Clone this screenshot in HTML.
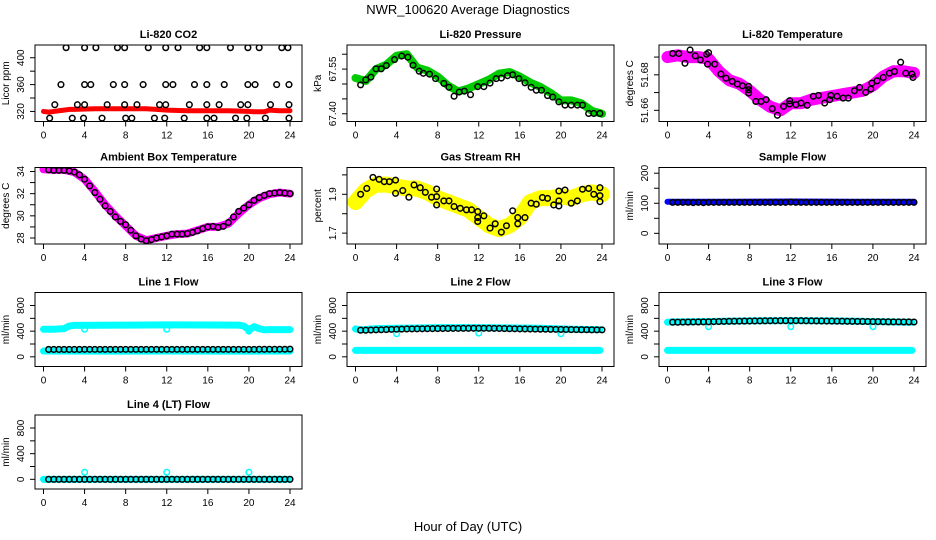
<!DOCTYPE html>
<html><head><meta charset="utf-8"><style>
html,body{margin:0;padding:0;background:#fff;}
svg{display:block;font-family:"Liberation Sans",Arial,sans-serif;}
</style></head><body>
<svg id="chart" width="936" height="540" viewBox="0 0 936 540">
<text x="468" y="14" text-anchor="middle" font-size="13">NWR_100620  Average Diagnostics</text>
<text x="468" y="531" text-anchor="middle" font-size="13">Hour of Day (UTC)</text>
</svg>
<script>
const halfHours=[0.5,1,1.5,2,2.5,3,3.5,4,4.5,5,5.5,6,6.5,7,7.5,8,8.5,9,9.5,10,10.5,11,11.5,12,12.5,13,13.5,14,14.5,15,15.5,16,16.5,17,17.5,18,18.5,19,19.5,20,20.5,21,21.5,22,22.5,23,23.5,24];
const hourly=[0,1,2,3,4,5,6,7,8,9,10,11,12,13,14,15,16,17,18,19,20,21,22,23,24];

// CO2
const co2BandHours=[0,0.5,1,1.5,2,2.5,3,5,8,10,11,12,14,16,18,20,20.5,21.5,22,23,24];
const co2BandVals=[320,319,320,321,322,323,323,324,324,324,323,322,321,321,321,320,319.5,319.5,322,321,321];
const co2PtHours=[2.2,4.0,5.1,7.2,7.9,10.2,11.9,13.1,15.2,15.9,18.2,19.9,21.0,23.2,23.8,1.7,4.0,4.6,6.8,7.9,9.7,11.9,12.6,14.7,15.9,17.6,19.9,20.6,22.7,23.9,1.1,3.3,4.0,6.2,7.9,9.1,11.3,11.9,14.2,15.9,17.1,19.2,19.9,22.1,23.9,0.6,2.8,3.9,5.7,8.0,8.6,10.8,11.8,13.7,15.9,16.6,18.7,19.8,21.6,23.9];
const co2PtVals=[415,415,415,415,415,415,415,415,415,415,415,415,415,415,415,360,360,360,360,360,360,360,360,360,360,360,360,360,360,360,330,330,330,330,330,330,330,330,330,330,330,330,330,330,330,310,310,310,310,310,310,310,310,310,310,310,310,310,310,310];

// Pressure
const presBandVals=[67.52,67.51,67.55,67.565,67.595,67.6,67.555,67.545,67.525,67.495,67.475,67.485,67.5,67.515,67.535,67.54,67.525,67.505,67.49,67.47,67.445,67.445,67.435,67.41,67.4];
const presPtHours=[0.5,1,1.5,2,2.5,3,3.8,4.5,5.1,5.6,6.2,6.6,7.2,7.8,8.6,9.1,9.6,10.1,10.6,11.2,11.9,12.5,13.1,13.7,14.2,14.8,15.3,15.9,16.5,17.1,17.6,18.1,18.7,19.2,19.8,20.4,21,21.6,22.1,22.7,23.2,23.8];
const presPtVals=[67.497,67.514,67.523,67.551,67.551,67.562,67.582,67.594,67.59,67.563,67.543,67.536,67.533,67.518,67.502,67.489,67.459,67.473,67.476,67.464,67.491,67.491,67.503,67.518,67.52,67.528,67.531,67.518,67.504,67.489,67.479,67.479,67.461,67.456,67.44,67.429,67.429,67.429,67.429,67.401,67.401,67.401];

// Li-820 temperature
const tempBandVals=[51.690,51.691,51.690,51.690,51.689,51.682,51.677,51.675,51.671,51.666,51.662,51.660,51.664,51.664,51.666,51.667,51.668,51.669,51.670,51.671,51.674,51.679,51.682,51.682,51.681];
const tempPtHours=[0.5,1.1,1.7,2.2,2.7,3.2,3.8,3.9,4.0,4.6,5.2,5.7,6.3,6.8,7.3,7.9,7.9,7.9,8.6,9.1,9.6,10.2,10.7,11.3,11.9,11.9,12.5,13,13.6,14.2,14.7,15.3,15.8,15.9,16.5,17.1,17.6,18.2,18.7,19.3,19.8,19.9,20.4,21,21.6,22.1,22.7,23.2,23.8,23.9];
const tempPtVals=[51.692,51.692,51.6865,51.694,51.6907,51.6884,51.6916,51.686,51.6925,51.686,51.6804,51.6781,51.6763,51.6748,51.6738,51.6735,51.6716,51.6697,51.665,51.665,51.666,51.6609,51.6572,51.6622,51.6654,51.6636,51.6632,51.6641,51.6628,51.6679,51.6684,51.6641,51.666,51.6684,51.6679,51.6669,51.6669,51.671,51.6729,51.6701,51.672,51.6753,51.6766,51.6785,51.6809,51.6819,51.6871,51.6809,51.6804,51.6785];

// Ambient box temperature
const ambBandVals=[34.2,34.15,34.15,33.95,33.3,32.2,31.0,30.0,29.1,28.2,27.8,28.0,28.2,28.35,28.4,28.7,29.0,29.0,29.3,30.2,31.0,31.6,31.95,32.1,32.0];
const ambPtVals=[34.15,34.1,34.1,34.1,34.05,33.95,33.7,33.3,32.7,32.1,31.5,30.9,30.4,29.9,29.5,29.2,28.7,28.2,27.9,27.75,27.85,28.0,28.1,28.2,28.35,28.35,28.35,28.4,28.5,28.65,28.85,29.0,29.05,28.95,29.05,29.4,29.9,30.4,30.7,31.0,31.4,31.65,31.85,32.0,32.05,32.1,32.05,32.0];

// Gas stream RH
const rhBandVals=[1.86,1.92,1.95,1.95,1.94,1.93,1.93,1.91,1.88,1.86,1.84,1.82,1.78,1.74,1.72,1.74,1.78,1.86,1.88,1.88,1.89,1.88,1.9,1.91,1.9];
const rhPtHours=[0.5,1.1,1.7,2.3,2.8,3.3,3.9,3.9,4.6,5.2,5.7,6.3,6.8,7.4,7.9,7.9,7.9,8.6,9.1,9.6,10.2,10.8,11.3,11.9,11.9,11.9,12.5,13.1,13.6,14.2,14.7,15.3,15.8,15.8,16.5,17.1,17.6,18.2,18.7,19.3,19.8,19.8,19.8,20.4,21,21.6,22.1,22.7,23.2,23.8,23.8,23.8];
const rhPtVals=[1.90,1.93,1.987,1.977,1.965,1.965,1.973,1.905,1.919,1.885,1.948,1.934,1.91,1.885,1.927,1.888,1.845,1.866,1.866,1.837,1.828,1.82,1.82,1.811,1.78,1.76,1.789,1.726,1.748,1.705,1.738,1.815,1.78,1.748,1.78,1.854,1.849,1.883,1.879,1.845,1.917,1.866,1.84,1.922,1.854,1.866,1.926,1.93,1.90,1.934,1.893,1.862];

// Sample flow
const sfBandHours=[0,6,12,18,24];
const sfBandVals=[105,105,106,105,105];
const sfPtVals=[103,103,103,103,102,103,102,103,103,103,103,103,103,103,103,103,103,103,103,103,103,103,103,104,103,103,103,103,103,103,103,103,103,103,103,103,103,103,103,103,103,103,103,103,103,103,103,103];

// Line 1
const l1HiHours=[0,1,2,2.5,3,8,12,16,19,19.5,20,20.5,21,21.5,22,24];
const l1HiVals=[430,430,440,480,490,495,498,497,495,480,420,470,440,420,425,425];
const l1LoHours=[0,6,12,18,24];
const l1LoVals=[90,88,90,88,90];
const l1PtVals=[115,115,115,115,115,115,115,116,116,116,116,116,116,116,116,116,116,116,116,116,116,116,116,116,116,116,116,116,116,116,116,116,116,116,116,116,116,116,116,116,116,117,117,118,118,118,118,120];
const l1OutHours=[4,12,20];
const l1OutVals=[430,430,400];

// Line 2
const l2HiHours=[0,0.5,2,6,8,12,16,18,21,23.8];
const l2HiVals=[435,420,440,450,455,455,450,445,430,425];
const l2LoHours=[0,12,23.8];
const l2LoVals=[100,100,100];
const l2PtVals=[415,415,418,420,422,425,428,430,432,434,435,436,437,438,439,440,441,442,443,443,444,444,445,445,445,444,443,442,440,438,437,435,434,433,432,431,430,429,428,427,426,425,424,423,422,421,420,420];
const l2OutHours=[4,12,20];
const l2OutVals=[360,370,360];

// Line 3
const l3HiHours=[0,0.5,4,8,12,16,20,23.8];
const l3HiVals=[540,545,550,560,565,560,550,540];
const l3LoHours=[0,12,23.8];
const l3LoVals=[100,100,100];
const l3PtVals=[540,540,541,542,543,544,545,546,548,550,552,554,555,556,557,558,559,560,561,562,562,563,563,564,564,563,562,561,560,559,558,557,556,555,554,553,552,551,550,549,548,547,546,545,545,544,544,543];
const l3OutHours=[4,12,20];
const l3OutVals=[470,470,470];

// Line 4
const l4BandHours=[0,24];
const l4BandVals=[0,0];
const l4PtVals=[0,0,0,0,0,0,0,0,0,0,0,0,0,0,0,0,0,0,0,0,0,0,0,0,0,0,0,0,0,0,0,0,0,0,0,0,0,0,0,0,0,0,0,0,0,0,0,0];
const l4OutHours=[4,12,20];
const l4OutVals=[110,110,110];

const xTicks=[0,4,8,12,16,20,24];

const NS="http://www.w3.org/2000/svg";
const svg=document.getElementById('chart');
function mk(tag,attrs,parent){const e=document.createElementNS(NS,tag);for(const k in attrs)e.setAttribute(k,attrs[k]);(parent||svg).appendChild(e);return e;}

const colLeft=[35,347,659], boxW=267;
const rowTop=[45,167.5,292.5,415], rowH=[76.5,76.5,74,74];

const flowTicks=[0,200,400,600,800], flowLabels=['0','','400','','800'];
const panels=[
 {key:'co2',title:'Li-820 CO2',ylab:'Licor ppm',r:0,c:0,ymin:305,ymax:419,ticks:[320,340,360,380,400],labels:['320','','360','','400'],
  bands:[{h:co2BandHours,v:co2BandVals,col:'#ff0000',w:5}],pts:[{h:co2PtHours,v:co2PtVals,col:'#000'}]},
 {key:'pressure',title:'Li-820 Pressure',ylab:'kPa',r:0,c:1,ymin:67.374,ymax:67.631,ticks:[67.40,67.45,67.50,67.55,67.60],labels:['67.40','','','67.55',''],
  bands:[{h:hourly,v:presBandVals,col:'#00cc00',w:8}],pts:[{h:presPtHours,v:presPtVals,col:'#000'}]},
 {key:'li820-temp',title:'Li-820 Temperature',ylab:'degrees C',r:0,c:2,ymin:51.6537,ymax:51.6968,ticks:[51.66,51.67,51.68,51.69],labels:['51.66','','51.68',''],
  bands:[{h:hourly,v:tempBandVals,col:'#ff00ff',w:12}],pts:[{h:tempPtHours,v:tempPtVals,col:'#000'}]},
 {key:'ambient-temp',title:'Ambient Box Temperature',ylab:'degrees C',r:1,c:0,ymin:27.46,ymax:34.36,ticks:[28,29,30,31,32,33,34],labels:['28','','30','','32','','34'],
  bands:[{h:hourly,v:ambBandVals,col:'#ff00ff',w:8}],pts:[{h:halfHours,v:ambPtVals,col:'#000'}]},
 {key:'gas-rh',title:'Gas Stream RH',ylab:'percent',r:1,c:1,ymin:1.644,ymax:2.038,ticks:[1.7,1.8,1.9,2.0],labels:['1.7','','1.9',''],
  bands:[{h:hourly,v:rhBandVals,col:'#ffff00',w:16}],pts:[{h:rhPtHours,v:rhPtVals,col:'#000'}]},
 {key:'sample-flow',title:'Sample Flow',ylab:'ml/min',r:1,c:2,ymin:-35.5,ymax:219,ticks:[0,50,100,150,200],labels:['0','','100','','200'],
  bands:[{h:sfBandHours,v:sfBandVals,col:'#0000ff',w:6}],pts:[{h:halfHours,v:sfPtVals,col:'#000'}]},
 {key:'line1-flow',title:'Line 1 Flow',ylab:'ml/min',r:2,c:0,ymin:-151,ymax:1003,ticks:flowTicks,labels:flowLabels,
  bands:[{h:l1HiHours,v:l1HiVals,col:'#00ffff',w:7},{h:l1LoHours,v:l1LoVals,col:'#00ffff',w:7}],pts:[{h:l1OutHours,v:l1OutVals,col:'#00ffff'},{h:halfHours,v:l1PtVals,col:'#000'}]},
 {key:'line2-flow',title:'Line 2 Flow',ylab:'ml/min',r:2,c:1,ymin:-151,ymax:1003,ticks:flowTicks,labels:flowLabels,
  bands:[{h:l2HiHours,v:l2HiVals,col:'#00ffff',w:7},{h:l2LoHours,v:l2LoVals,col:'#00ffff',w:7}],pts:[{h:l2OutHours,v:l2OutVals,col:'#00ffff'},{h:halfHours,v:l2PtVals,col:'#000'}]},
 {key:'line3-flow',title:'Line 3 Flow',ylab:'ml/min',r:2,c:2,ymin:-151,ymax:1003,ticks:flowTicks,labels:flowLabels,
  bands:[{h:l3HiHours,v:l3HiVals,col:'#00ffff',w:7},{h:l3LoHours,v:l3LoVals,col:'#00ffff',w:7}],pts:[{h:l3OutHours,v:l3OutVals,col:'#00ffff'},{h:halfHours,v:l3PtVals,col:'#000'}]},
 {key:'line4-flow',title:'Line 4 (LT) Flow',ylab:'ml/min',r:3,c:0,ymin:-151,ymax:1003,ticks:flowTicks,labels:flowLabels,
  bands:[{h:l4BandHours,v:l4BandVals,col:'#00ffff',w:7}],pts:[{h:l4OutHours,v:l4OutVals,col:'#00ffff'},{h:halfHours,v:l4PtVals,col:'#000'}]}
];

panels.forEach(p=>{
  const L=colLeft[p.c], T=rowTop[p.r], H=rowH[p.r], B=T+H;
  const xs=h=>L+8.5+h*(246.5/24);
  const ys=v=>T+(p.ymax-v)/(p.ymax-p.ymin)*H;
  const g=mk('g',{});
  
  
  const t=mk('text',{x:L+boxW/2,y:T-7,'text-anchor':'middle','font-size':11,'font-weight':'bold'},g);
  t.textContent=p.title;
  
  
  const clip=mk('clipPath',{id:'clip-'+p.key},g);
  mk('rect',{x:L,y:T,width:boxW,height:H},clip);
  const plot=mk('g',{'clip-path':'url(#clip-'+p.key+')'},g);
  p.bands.forEach((b,bi)=>{
    const pl=mk('polyline',{points:b.h.map((h,i)=>xs(h)+','+ys(b.v[i])).join(' '),fill:'none',stroke:b.col,'stroke-width':b.w,'stroke-linejoin':'round','stroke-linecap':'round'},plot);
    
    
  });
  p.pts.forEach((s,si)=>{
    s.h.forEach((h,i)=>{
      const c=mk('circle',{cx:xs(h),cy:ys(s.v[i]),r:2.8,fill:'none',stroke:s.col,'stroke-width':1.5},plot);
      
      
    });
  });
  const box=mk('rect',{x:L,y:T,width:boxW,height:H,fill:'none',stroke:'#000','stroke-width':1},g);
  
  
  xTicks.forEach(tk=>{
    mk('line',{x1:xs(tk),x2:xs(tk),y1:B,y2:B+5,stroke:'#000'},g);
    const lt=mk('text',{x:xs(tk),y:B+17,'text-anchor':'middle','font-size':10},g);
    lt.textContent=tk;
    
    
  });
  p.ticks.forEach((tk,i)=>{
    const y=ys(tk);
    mk('line',{x1:L-5,x2:L,y1:y,y2:y,stroke:'#000'},g);
    if(p.labels[i]){
      const lt=mk('text',{x:0,y:0,'text-anchor':'middle','font-size':10,transform:'translate('+(L-11)+','+y+') rotate(-90)'},g);
      lt.textContent=p.labels[i];
      
      
    }
  });
  const yl=mk('text',{x:0,y:0,'text-anchor':'middle','font-size':10,transform:'translate('+(L-26)+','+(T+H/2)+') rotate(-90)'},g);
  yl.textContent=p.ylab;
  
  
});
</script>
</body></html>
